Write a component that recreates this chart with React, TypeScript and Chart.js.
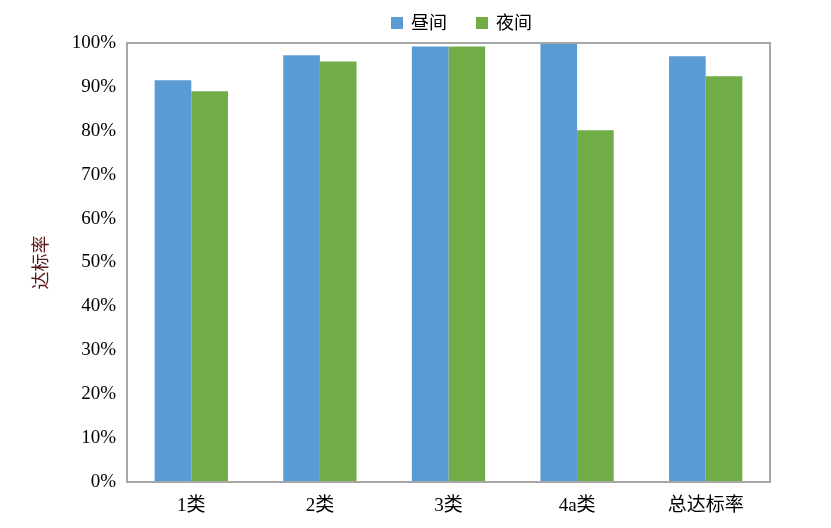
import React, { useEffect, useRef } from "react";
import { Chart, registerables } from "chart.js";

Chart.register(...registerables);

const categories = ["1类", "2类", "3类", "4a类", "总达标率"];
const dayValues = [91.5, 97.2, 99.2, 100, 97.0];
const nightValues = [89.0, 95.8, 99.2, 80.1, 92.4];
const seriesNames = ["昼间", "夜间"];
const seriesColors = ["#5b9bd5", "#70ad47"];
const yTitle = "达标率";

const FONT = "'Times New Roman', 'Liberation Serif', 'Noto Sans CJK SC', serif";

const framePlugin = {
  id: "frame",
  afterDraw(chart: any) {
    const { ctx, chartArea } = chart;
    ctx.save();
    ctx.strokeStyle = "#a6a6a6";
    ctx.lineWidth = 2;
    ctx.strokeRect(chartArea.left, chartArea.top, chartArea.right - chartArea.left, chartArea.bottom - chartArea.top);
    ctx.restore();
  },
};

const legendPlugin = {
  id: "customLegend",
  afterDraw(chart: any) {
    const { ctx } = chart;
    ctx.save();
    ctx.font = `18px ${FONT}`;
    ctx.textBaseline = "middle";
    ctx.textAlign = "left";
    let x = 391;
    chart.data.datasets.forEach((ds: any) => {
      ctx.fillStyle = ds.backgroundColor;
      ctx.fillRect(x, 17, 12, 12);
      ctx.fillStyle = "#000";
      ctx.fillText(ds.label, x + 20, 24);
      const w = ctx.measureText(ds.label).width;
      x = x + 20 + w + 29;
    });
    ctx.restore();
  },
};

export default function App() {
  const ref = useRef<HTMLCanvasElement>(null);
  useEffect(() => {
    if (!ref.current) return;
    const chart = new Chart(ref.current, {
      type: "bar",
      data: {
        labels: categories,
        datasets: [
          { label: seriesNames[0], data: dayValues, backgroundColor: seriesColors[0], categoryPercentage: 0.57, barPercentage: 1.0 },
          { label: seriesNames[1], data: nightValues, backgroundColor: seriesColors[1], categoryPercentage: 0.57, barPercentage: 1.0 },
        ],
      },
      options: {
        animation: false,
        responsive: false,
        devicePixelRatio: 1,
        layout: { padding: { left: 0, right: 61, top: 43, bottom: 0 } },
        plugins: {
          legend: { display: false },
          tooltip: { enabled: false },
        },
        scales: {
          x: {
            grid: { display: false, drawTicks: false },
            border: { display: false },
            ticks: { color: "#000", font: { family: FONT, size: 19 }, padding: 13 },
            afterFit(scale: any) {
              scale.height = 46;
            },
          },
          y: {
            min: 0,
            max: 100,
            grid: { display: false, drawTicks: false },
            border: { display: false },
            ticks: {
              stepSize: 10,
              color: "#000",
              font: { family: FONT, size: 19 },
              padding: 11,
              callback: (v: any) => v + "%",
            },
            title: {
              display: true,
              text: yTitle,
              color: "#5c1a1a",
              font: { family: FONT, size: 18 },
              padding: { top: 31, bottom: 0 },
            },
            afterFit(scale: any) {
              scale.width = 127;
            },
          },
        },
      },
      plugins: [framePlugin, legendPlugin],
    });
    return () => chart.destroy();
  }, []);
  return (
    <div style={{ position: "fixed", left: 0, top: 0, width: 831, height: 528, background: "#fff" }}>
      <canvas ref={ref} width={831} height={528} />
    </div>
  );
}
